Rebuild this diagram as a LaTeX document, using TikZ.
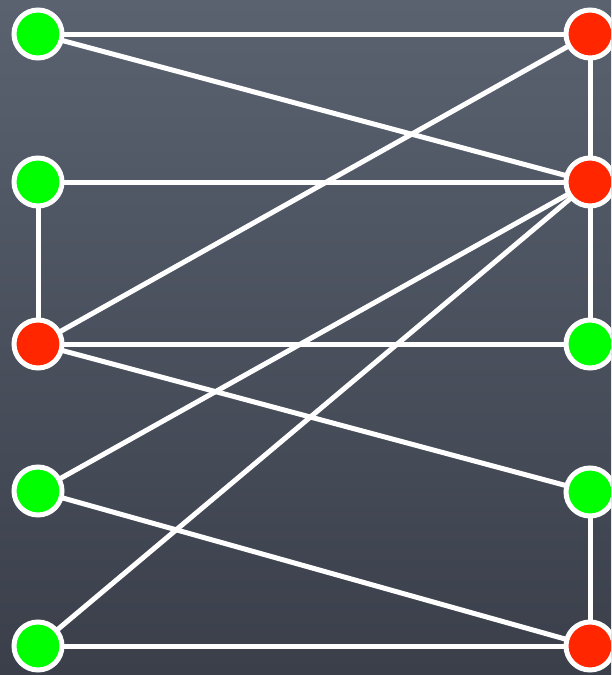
\documentclass[tikz,border=0pt]{standalone}
\definecolor{bgtop}{HTML}{5A6270}
\definecolor{bgbot}{HTML}{3A3F4A}
\definecolor{nodegreen}{HTML}{00FF00}
\definecolor{nodered}{HTML}{FF2600}
\pgfdeclarelayer{bglayer}
\pgfdeclarelayer{edgelayer}
\pgfsetlayers{bglayer,edgelayer,main}
\tikzset{
  vtx/.style={circle, draw=white, line width=5pt, minimum size=48pt, inner sep=0pt},
  gv/.style={vtx, fill=nodegreen},
  rv/.style={vtx, fill=nodered},
  edge/.style={draw=white, line width=5pt}
}
\begin{document}
\begin{tikzpicture}[x=1pt,y=-1pt]
\useasboundingbox (0,0) rectangle (611,675);
\clip (0,0) rectangle (611,675);
\begin{pgfonlayer}{bglayer}
\shade[top color=bgtop, bottom color=bgbot] (0,0) rectangle (611,675);
\end{pgfonlayer}
\node[gv] (L1) at (38,34) {};
\node[gv] (L2) at (38,182) {};
\node[rv] (L3) at (38,344) {};
\node[gv] (L4) at (38,491) {};
\node[gv] (L5) at (38,646) {};
\node[rv] (R1) at (590,34) {};
\node[rv] (R2) at (590,182) {};
\node[gv] (R3) at (590,344) {};
\node[gv] (R4) at (590,492) {};
\node[rv] (R5) at (590,646) {};
\begin{pgfonlayer}{edgelayer}
\path[edge] (L1.center) -- (R1.center);
\path[edge] (L1.center) -- (R2.center);
\path[edge] (L2.center) -- (R2.center);
\path[edge] (L2.center) -- (L3.center);
\path[edge] (L3.center) -- (R1.center);
\path[edge] (L3.center) -- (R3.center);
\path[edge] (L3.center) -- (R4.center);
\path[edge] (L4.center) -- (R2.center);
\path[edge] (L5.center) -- (R2.center);
\path[edge] (L4.center) -- (R5.center);
\path[edge] (L5.center) -- (R5.center);
\path[edge] (R1.center) -- (R2.center);
\path[edge] (R2.center) -- (R3.center);
\path[edge] (R4.center) -- (R5.center);
\end{pgfonlayer}
\end{tikzpicture}
\end{document}
